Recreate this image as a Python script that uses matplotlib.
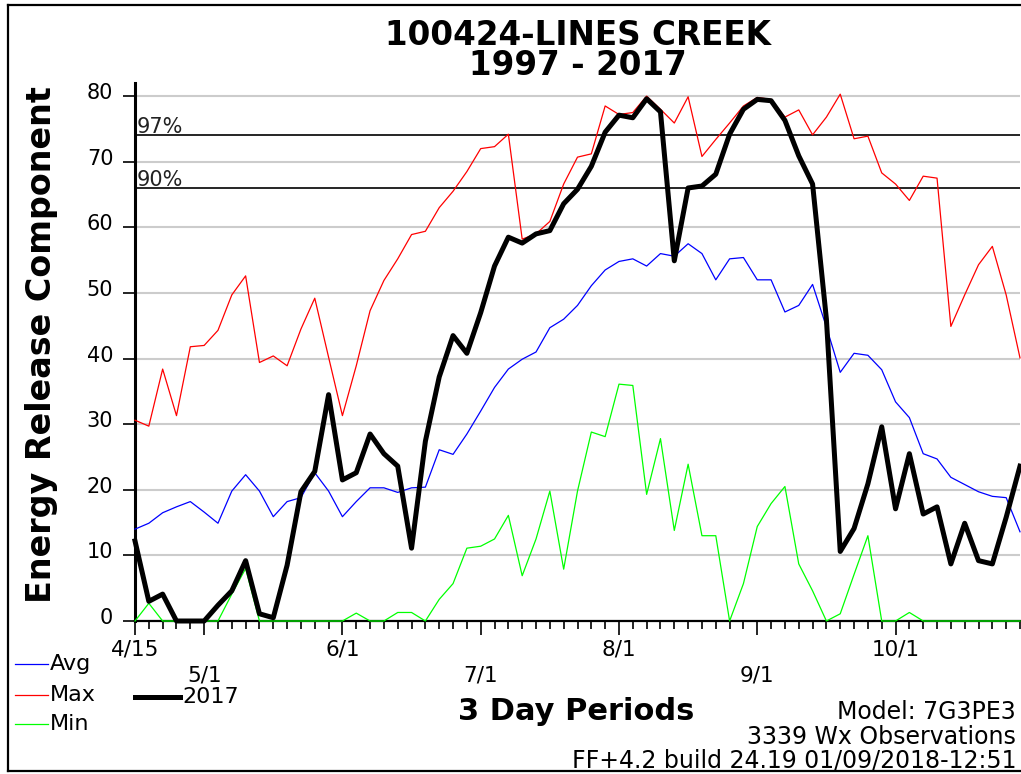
import matplotlib
matplotlib.use('Agg')
import matplotlib.pyplot as plt
import matplotlib.transforms as mtransforms
from matplotlib.lines import Line2D

# 3-day periods starting 4/15
periods = list(range(65))

avg = [14.0, 14.9, 16.5, 17.4, 18.2, 16.6, 14.9, 19.8, 22.3, 19.8,
       15.9, 18.2, 18.8, 22.6, 19.8, 15.9, 18.2, 20.3, 20.3, 19.6,
       20.3, 20.4, 26.1, 25.4, 28.5, 32.0, 35.6, 38.4, 39.9, 41.0,
       44.7, 46.0, 48.1, 51.1, 53.5, 54.8, 55.2, 54.1, 56.0, 55.6,
       57.5, 56.0, 52.0, 55.2, 55.4, 52.0, 52.0, 47.1, 48.1, 51.3,
       44.8, 37.9, 40.8, 40.5, 38.3, 33.4, 31.0, 25.5, 24.7, 21.9,
       20.8, 19.7, 19.0, 18.8, 13.6]

maxv = [30.6, 29.7, 38.4, 31.3, 41.8, 42.0, 44.3, 49.7, 52.6, 39.4,
        40.4, 38.9, 44.5, 49.2, 40.2, 31.3, 38.9, 47.3, 51.9, 55.2,
        58.9, 59.4, 63.0, 65.5, 68.5, 72.0, 72.3, 74.2, 58.2, 59.0,
        60.9, 66.6, 70.7, 71.2, 78.5, 77.2, 77.5, 80.0, 78.0, 75.9,
        79.9, 70.8, 73.4, 75.9, 78.5, 79.8, 79.5, 76.8, 77.9, 74.1,
        76.8, 80.3, 73.5, 73.9, 68.3, 66.6, 64.1, 67.8, 67.5, 44.9,
        49.7, 54.3, 57.1, 49.7, 40.1]

minv = [0, 2.7, 0, 0, 0, 0, 0, 4.1, 8.0, 0,
        0, 0, 0, 0, 0, 0, 1.2, 0, 0, 1.3,
        1.3, 0, 3.3, 5.7, 11.1, 11.4, 12.5, 16.1, 6.9, 12.5,
        19.8, 7.9, 19.8, 28.8, 28.1, 36.1, 35.9, 19.3, 27.8, 13.8,
        23.9, 13.0, 13.0, 0, 5.7, 14.4, 17.9, 20.5, 8.7, 4.6,
        0, 1.1, 7.1, 13.0, 0, 0, 1.3, 0, 0, 0,
        0, 0, 0, 0, 0]

yr2017 = [12.2, 3.0, 4.1, 0, 0, 0, 2.4, 4.6, 9.2, 1.1,
          0.5, 8.5, 19.7, 22.8, 34.5, 21.5, 22.6, 28.5, 25.5, 23.6,
          11.1, 27.4, 37.2, 43.5, 40.8, 47.0, 54.1, 58.5, 57.6, 59.0,
          59.5, 63.6, 65.8, 69.3, 74.5, 77.1, 76.7, 79.6, 77.6, 54.9,
          66.0, 66.3, 68.1, 74.2, 78.0, 79.5, 79.3, 76.3, 70.9, 66.6,
          46.0, 10.6, 14.1, 20.9, 29.6, 17.1, 25.5, 16.3, 17.4, 8.7,
          14.9, 9.2, 8.7, 15.8, 23.6]

major_idx = [0, 5, 15, 25, 35, 45, 55]
major_lbl = ['4/15', '5/1', '6/1', '7/1', '8/1', '9/1', '10/1']
pct_vals = [74, 66]
pct_lbls = ['97%', '90%']

W, H = 1021, 774
plt.rcParams['font.family'] = ['DejaVu Sans']
fig = plt.figure(figsize=(W / 100, H / 100), dpi=100)


def fx(x):
    return x / W


def fy(y):
    return 1 - y / H


ax = fig.add_axes([fx(135), fy(621), 885 / W, (621 - 83) / H])
ax.set_xlim(0, 64)
ax.set_ylim(0, 82)

ax.set_yticks(range(0, 81, 10))
ax.yaxis.grid(True, color='#cccccc', lw=1.5)
ax.set_axisbelow(True)
for s in ['top', 'right']:
    ax.spines[s].set_visible(False)
ax.spines['left'].set_linewidth(2.2)
ax.spines['bottom'].set_linewidth(1.6)

ax.tick_params(axis='y', direction='out', length=8.6, width=1.2, labelsize=15, pad=7)
ax.set_xticks(major_idx)
ax.set_xticklabels(major_lbl)
ax.set_xticks(periods, minor=True)
ax.tick_params(axis='x', which='major', direction='out', length=10, width=1.2, labelsize=15.5)
ax.tick_params(axis='x', which='minor', direction='out', length=5.8, width=1.2)

for i, t in enumerate(ax.xaxis.get_major_ticks()):
    t.set_pad(3 if i % 2 == 0 else 22)

off = mtransforms.ScaledTranslation(0, 5 / 100, fig.dpi_scale_trans)
for lbl in ax.get_yticklabels():
    lbl.set_transform(lbl.get_transform() + off)

for v, lbl in zip(pct_vals, pct_lbls):
    ax.axhline(v, color='black', lw=1.2, zorder=2.6)
    ax.text(0.15, v + 0.35, lbl, fontsize=15, ha='left', va='baseline', color='#222222')

ax.plot(periods, maxv, color='#ff0000', lw=0.9, clip_on=False, zorder=3)
ax.plot(periods, avg, color='#0000ff', lw=0.9, clip_on=False, zorder=3)
ax.plot(periods, minv, color='#00ff00', lw=0.9, clip_on=False, zorder=3)
ax.plot(periods, yr2017, color='black', lw=3.6, clip_on=False, zorder=4)

# titles
fig.text(fx(578), fy(45), '100424-LINES CREEK', ha='center', va='baseline',
         fontsize=23.5, weight='bold')
fig.text(fx(578), fy(75), '1997 - 2017', ha='center', va='baseline',
         fontsize=23.5, weight='bold')
fig.text(fx(42), fy(345), 'Energy Release Component', rotation=90,
         ha='center', va='center', fontsize=24, weight='bold')
fig.text(fx(576), fy(720), '3 Day Periods', ha='center', va='baseline',
         fontsize=22, weight='bold')

# legend
leg = [('Avg', '#0000ff', 664, 15, 48, 0.9),
       ('Max', '#ff0000', 695, 15, 48, 0.9),
       ('Min', '#00ff00', 724, 15, 48, 0.9),
       ('2017', 'black', 697, 135, 180, 3.6)]
for name, c, y, x0, x1, lw in leg:
    fig.add_artist(Line2D([fx(x0), fx(x1)], [fy(y), fy(y)], color=c, lw=lw,
                          transform=fig.transFigure))
    fig.text(fx(x1 + 2), fy(y), name, ha='left', va='center', fontsize=16)

# info
info = [('Model: 7G3PE3', 719), ('3339 Wx Observations', 744),
        ('FF+4.2 build 24.19 01/09/2018-12:51', 768)]
for s, y in info:
    fig.text(fx(1016), fy(y), s, ha='right', va='baseline', fontsize=17)

# border
for xs, ys in [([8, W], [5, 5]), ([8, 8], [5, 771]), ([8, W], [771, 771])]:
    fig.add_artist(Line2D([fx(x) for x in xs], [fy(y) for y in ys],
                          color='black', lw=1.6, transform=fig.transFigure))

fig.savefig('out.png', dpi=100)
